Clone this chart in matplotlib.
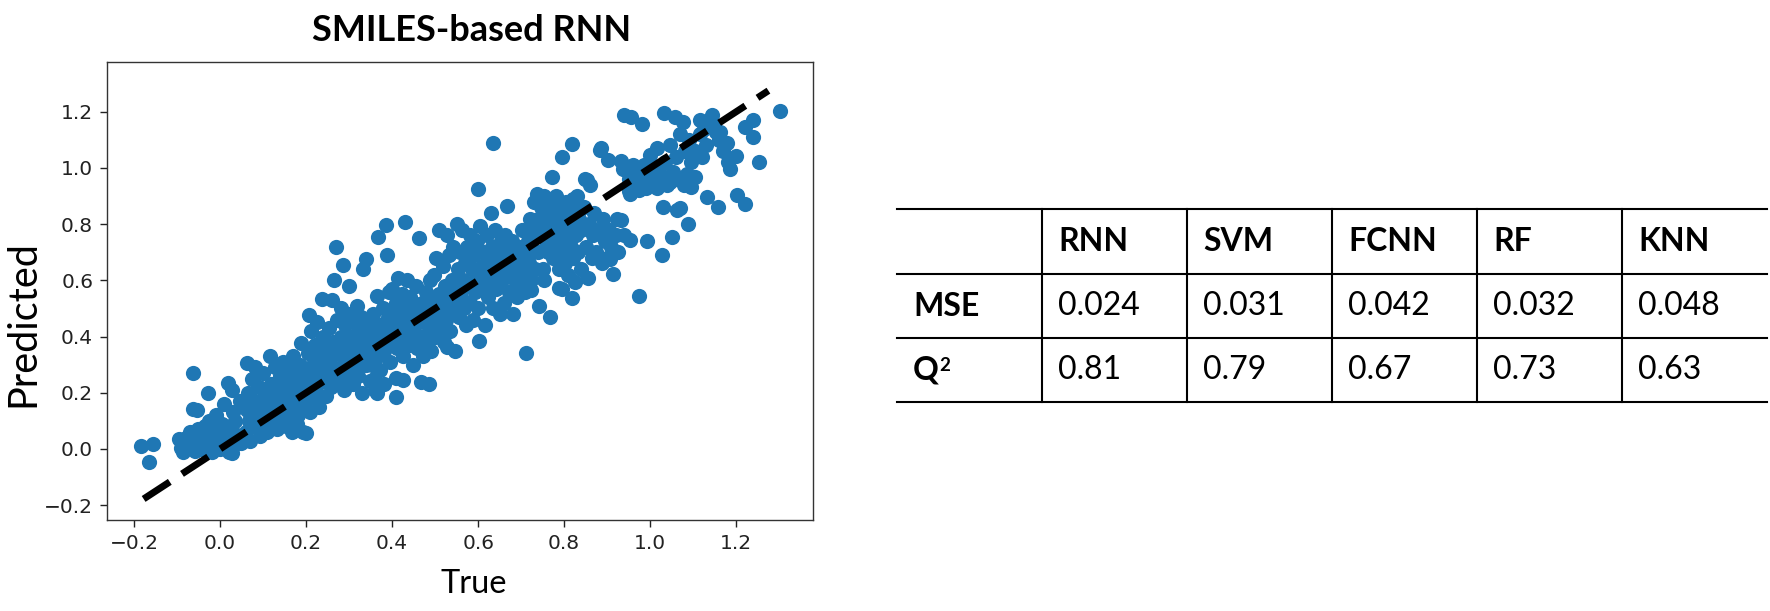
import matplotlib.pyplot as plt

plt.rcParams['font.family'] = ['Lato', 'DejaVu Sans']

title = "SMILES-based RNN"
x_label = "True"
y_label = "Predicted"

# (true, predicted) pairs, roughly left to right
points = [
    # x < -0.05
    (-0.183, 0.010), (-0.157, 0.017), (-0.166, -0.045), (-0.095, 0.035), (-0.090, 0.005),
    (-0.086, -0.012), (-0.080, 0.040), (-0.075, 0.022), (-0.063, 0.269), (-0.070, 0.060),
    (-0.064, 0.142), (-0.053, 0.138), (-0.058, -0.008), (-0.055, 0.030), (-0.052, 0.070),
    (-0.050, 0.010), (-0.068, 0.050), (-0.085, 0.020),
    # -0.05 .. 0.05
    (-0.045, 0.000), (-0.040, 0.040), (-0.035, 0.080), (-0.030, 0.020), (-0.028, 0.200),
    (-0.025, 0.100), (-0.020, -0.010), (-0.015, 0.060), (-0.010, 0.120), (-0.005, 0.030),
    (0.000, 0.000), (0.005, 0.090), (0.010, 0.160), (0.012, 0.040), (0.019, 0.233),
    (0.020, -0.010), (0.022, 0.070), (0.027, 0.210), (0.030, 0.130), (0.030, 0.010),
    (0.035, 0.100), (0.040, 0.050), (0.045, 0.170), (0.048, 0.020), (0.027, -0.015),
    (0.000, 0.060), (-0.012, 0.020),
    # 0.05 .. 0.15
    (0.063, 0.307), (0.060, 0.060), (0.062, 0.140), (0.065, 0.200), (0.068, 0.100),
    (0.070, 0.030), (0.075, 0.250), (0.080, 0.290), (0.082, 0.170), (0.085, 0.080),
    (0.088, 0.120), (0.090, 0.220), (0.093, 0.045), (0.095, 0.160), (0.100, 0.270),
    (0.102, 0.110), (0.105, 0.190), (0.110, 0.060), (0.112, 0.140), (0.116, 0.332),
    (0.118, 0.230), (0.120, 0.100), (0.125, 0.180), (0.128, 0.290), (0.130, 0.130),
    (0.133, 0.070), (0.135, 0.220), (0.138, 0.160), (0.140, 0.260), (0.143, 0.100),
    (0.146, 0.310), (0.148, 0.200), (0.150, 0.140),
    # 0.15 .. 0.25
    (0.152, 0.080), (0.155, 0.240), (0.158, 0.170), (0.160, 0.290), (0.162, 0.110),
    (0.165, 0.210), (0.168, 0.060), (0.170, 0.330), (0.172, 0.150), (0.175, 0.260),
    (0.178, 0.090), (0.180, 0.190), (0.182, 0.120), (0.185, 0.300), (0.188, 0.378),
    (0.190, 0.230), (0.192, 0.060), (0.195, 0.160), (0.198, 0.270), (0.200, 0.058),
    (0.202, 0.200), (0.205, 0.340), (0.206, 0.475), (0.208, 0.130), (0.210, 0.250),
    (0.212, 0.420), (0.215, 0.300), (0.218, 0.180), (0.220, 0.370), (0.222, 0.220),
    (0.225, 0.450), (0.228, 0.280), (0.230, 0.150), (0.232, 0.330), (0.236, 0.533),
    (0.238, 0.240), (0.240, 0.400), (0.242, 0.300), (0.245, 0.190), (0.248, 0.360),
    (0.250, 0.260),
    # 0.25 .. 0.35
    (0.252, 0.430), (0.255, 0.320), (0.258, 0.220), (0.260, 0.530), (0.262, 0.380),
    (0.265, 0.600), (0.268, 0.280), (0.270, 0.720), (0.272, 0.460), (0.275, 0.340),
    (0.278, 0.250), (0.280, 0.400), (0.282, 0.500), (0.285, 0.300), (0.286, 0.656),
    (0.288, 0.210), (0.290, 0.440), (0.292, 0.360), (0.295, 0.270), (0.298, 0.480),
    (0.300, 0.580), (0.302, 0.330), (0.305, 0.400), (0.308, 0.230), (0.310, 0.450),
    (0.312, 0.300), (0.315, 0.370), (0.318, 0.510), (0.320, 0.260), (0.322, 0.420),
    (0.325, 0.340), (0.328, 0.470), (0.330, 0.200), (0.333, 0.642), (0.335, 0.390),
    (0.338, 0.300), (0.340, 0.676), (0.342, 0.440), (0.345, 0.350), (0.348, 0.240),
    # 0.35 .. 0.45
    (0.350, 0.410), (0.352, 0.300), (0.355, 0.480), (0.358, 0.250), (0.360, 0.210),
    (0.362, 0.370), (0.365, 0.544), (0.367, 0.753), (0.368, 0.330), (0.370, 0.440),
    (0.372, 0.280), (0.375, 0.400), (0.378, 0.500), (0.380, 0.350), (0.382, 0.230),
    (0.385, 0.797), (0.387, 0.690), (0.388, 0.460), (0.390, 0.420), (0.392, 0.560),
    (0.395, 0.310), (0.398, 0.380), (0.400, 0.570), (0.402, 0.480), (0.405, 0.440),
    (0.408, 0.186), (0.408, 0.253), (0.410, 0.520), (0.412, 0.360), (0.414, 0.607),
    (0.418, 0.400), (0.420, 0.460), (0.422, 0.550), (0.425, 0.330), (0.426, 0.246),
    (0.428, 0.500), (0.430, 0.808), (0.432, 0.420), (0.435, 0.600), (0.438, 0.370),
    (0.440, 0.470), (0.442, 0.540), (0.445, 0.410), (0.448, 0.300), (0.365, 0.198),
    # 0.45 .. 0.55
    (0.450, 0.500), (0.452, 0.440), (0.455, 0.580), (0.458, 0.360), (0.460, 0.470),
    (0.462, 0.750), (0.465, 0.400), (0.468, 0.239), (0.470, 0.520), (0.472, 0.330),
    (0.475, 0.450), (0.478, 0.560), (0.480, 0.380), (0.482, 0.490), (0.485, 0.420),
    (0.486, 0.232), (0.488, 0.600), (0.490, 0.350), (0.492, 0.460), (0.495, 0.520),
    (0.498, 0.620), (0.500, 0.400), (0.502, 0.680), (0.505, 0.480), (0.508, 0.550),
    (0.510, 0.780), (0.512, 0.430), (0.515, 0.500), (0.518, 0.650), (0.520, 0.380),
    (0.522, 0.580), (0.525, 0.460), (0.527, 0.364), (0.527, 0.760), (0.530, 0.530),
    (0.532, 0.690), (0.535, 0.420), (0.538, 0.600), (0.540, 0.500), (0.542, 0.720),
    (0.545, 0.350), (0.548, 0.560), (0.550, 0.800),
    # 0.55 .. 0.65
    (0.552, 0.640), (0.555, 0.470), (0.558, 0.700), (0.560, 0.540), (0.562, 0.780),
    (0.565, 0.600), (0.568, 0.500), (0.570, 0.660), (0.572, 0.440), (0.575, 0.720),
    (0.578, 0.580), (0.580, 0.760), (0.582, 0.520), (0.585, 0.640), (0.588, 0.460),
    (0.590, 0.690), (0.592, 0.560), (0.595, 0.610), (0.598, 0.740), (0.599, 0.924),
    (0.600, 0.500), (0.602, 0.383), (0.605, 0.794), (0.608, 0.650), (0.610, 0.580),
    (0.612, 0.700), (0.615, 0.440), (0.618, 0.620), (0.620, 0.760), (0.622, 0.540),
    (0.625, 0.680), (0.628, 0.600), (0.629, 0.839), (0.632, 0.720), (0.635, 1.089),
    (0.635, 0.500), (0.638, 0.660), (0.640, 0.780), (0.642, 0.570), (0.645, 0.700),
    (0.648, 0.640), (0.650, 0.480),
    # 0.65 .. 0.75
    (0.652, 0.740), (0.655, 0.600), (0.658, 0.680), (0.660, 0.520), (0.662, 0.760),
    (0.665, 0.640), (0.668, 0.864), (0.670, 0.700), (0.672, 0.560), (0.675, 0.620),
    (0.678, 0.740), (0.680, 0.480), (0.682, 0.680), (0.685, 0.600), (0.688, 0.700),
    (0.690, 0.540), (0.692, 0.640), (0.695, 0.720), (0.698, 0.580), (0.700, 0.660),
    (0.702, 0.780), (0.705, 0.620), (0.708, 0.700), (0.710, 0.560), (0.712, 0.343),
    (0.715, 0.740), (0.718, 0.660), (0.720, 0.820), (0.722, 0.600), (0.724, 0.565),
    (0.725, 0.700), (0.728, 0.780), (0.730, 0.880), (0.732, 0.640), (0.735, 0.760),
    (0.736, 0.908), (0.738, 0.820), (0.740, 0.700), (0.742, 0.510), (0.745, 0.860),
    (0.748, 0.780), (0.750, 0.640),
    # 0.75 .. 0.85
    (0.752, 0.900), (0.754, 0.600), (0.755, 0.820), (0.758, 0.740), (0.760, 0.880),
    (0.762, 0.700), (0.765, 0.800), (0.768, 0.470), (0.770, 0.860), (0.771, 0.968),
    (0.772, 0.760), (0.775, 0.680), (0.778, 0.840), (0.780, 0.720), (0.782, 0.900),
    (0.785, 0.780), (0.788, 0.640), (0.789, 0.572), (0.790, 0.820), (0.792, 0.740),
    (0.795, 1.040), (0.795, 0.860), (0.798, 0.700), (0.800, 0.800), (0.802, 0.660),
    (0.805, 0.880), (0.808, 0.760), (0.810, 0.620), (0.812, 0.840), (0.815, 0.720),
    (0.818, 0.800), (0.819, 1.086), (0.819, 0.537), (0.820, 0.680), (0.822, 0.860),
    (0.825, 0.593), (0.828, 0.760), (0.830, 0.900), (0.832, 0.700), (0.835, 0.820),
    (0.838, 0.640), (0.840, 0.780), (0.845, 0.860), (0.849, 0.961), (0.850, 0.720),
    (0.855, 0.607), (0.821, 0.890), (0.853, 0.958), (0.795, 0.569),
    # 0.85 .. 1.0
    (0.858, 0.800), (0.860, 0.940), (0.865, 0.680), (0.868, 0.760), (0.870, 0.840),
    (0.875, 0.700), (0.880, 0.780), (0.885, 1.072), (0.888, 0.660), (0.890, 0.820),
    (0.895, 0.740), (0.900, 0.680), (0.902, 1.030), (0.905, 0.780), (0.910, 0.720),
    (0.914, 0.621), (0.907, 0.675), (0.920, 0.760), (0.925, 0.700), (0.932, 1.024),
    (0.932, 0.815), (0.938, 1.190), (0.940, 0.760), (0.945, 0.990), (0.950, 0.919),
    (0.950, 0.960), (0.956, 1.183), (0.953, 0.745), (0.960, 1.010), (0.965, 0.940),
    (0.970, 0.980), (0.974, 0.544), (0.975, 0.920), (0.980, 1.156), (0.980, 0.960),
    (0.985, 1.010), (0.990, 0.930), (0.992, 0.739), (0.995, 0.980), (0.884, 1.063),
    (0.923, 0.820), (0.937, 0.997), (0.953, 0.908),
    # 1.0 .. 1.3
    (0.998, 0.947), (1.000, 1.045), (1.005, 0.960), (1.010, 1.000), (1.015, 0.930),
    (1.016, 1.070), (1.022, 0.980), (1.027, 0.690), (1.030, 0.950), (1.033, 1.197),
    (1.035, 1.020), (1.030, 0.862), (1.040, 0.940), (1.045, 1.080), (1.047, 0.950),
    (1.051, 0.753), (1.053, 0.985), (1.057, 1.183), (1.060, 1.040), (1.063, 0.850),
    (1.065, 0.960), (1.069, 0.857), (1.070, 1.120), (1.077, 1.163), (1.078, 0.940),
    (1.080, 1.060), (1.085, 0.980), (1.088, 0.800), (1.090, 1.100), (1.094, 0.933),
    (1.095, 1.020), (1.105, 0.968), (1.105, 1.060), (1.116, 1.170), (1.115, 1.120),
    (1.120, 1.040), (1.125, 1.140), (1.130, 1.080), (1.133, 0.897), (1.144, 1.187),
    (1.145, 1.160), (1.152, 1.128), (1.158, 0.862), (1.160, 1.100), (1.163, 1.127),
    (1.170, 1.060), (1.179, 1.090), (1.180, 1.020), (1.186, 0.997), (1.200, 1.044),
    (1.202, 0.905), (1.220, 0.870), (1.220, 1.145), (1.240, 1.170), (1.240, 1.110),
    (1.252, 1.020), (1.301, 1.204),
]
true_vals = [p[0] for p in points]
pred_vals = [p[1] for p in points]

# ends of the y = x reference line
line_ends = [-0.178, 1.275]
x_ticks = [-0.2, 0.0, 0.2, 0.4, 0.6, 0.8, 1.0, 1.2]
y_ticks = [-0.2, 0.0, 0.2, 0.4, 0.6, 0.8, 1.0, 1.2]

models = ["RNN", "SVM", "FCNN", "RF", "KNN"]
metrics = ["MSE", "Q"]
mse_vals = ["0.024", "0.031", "0.042", "0.032", "0.048"]
q2_vals = ["0.81", "0.79", "0.67", "0.73", "0.63"]

fig = plt.figure(figsize=(17.7, 6.11), dpi=100)

ax = fig.add_axes([0.0605, 0.1489, 0.3989, 0.7496])
ax.scatter(true_vals, pred_vals, s=120, color='#1f77b4', linewidths=0, zorder=2)
ax.plot(line_ends, line_ends, color='black', lw=5, linestyle=(0, (4.5, 2.1)), zorder=3)
ax.set_xlim(-0.263, 1.379)
ax.set_ylim(-0.253, 1.377)
ax.set_xticks(x_ticks)
ax.set_yticks(y_ticks)
ax.tick_params(labelsize=14.5, length=5, width=1, pad=5, colors='#222222')
for lbl in ax.get_xticklabels() + ax.get_yticklabels():
    lbl.set_fontfamily('DejaVu Sans')
for sp in ax.spines.values():
    sp.set_linewidth(1.0)
    sp.set_color('#333333')
ax.set_xlabel(x_label, fontsize=23.5)
ax.xaxis.set_label_coords(0.52, -0.107)
ax.set_ylabel(y_label, fontsize=28.5)
ax.yaxis.set_label_coords(-0.093, 0.43)

fig.text(472 / 1770, 1 - 41 / 611, title, ha='center', va='baseline',
         fontsize=26, fontweight='bold')

# table drawn in pixel units of the figure
tax = fig.add_axes([0, 0, 1, 1], zorder=-1)
tax.set_xlim(0, 1770)
tax.set_ylim(611, 0)
tax.axis('off')
row_edges = [209, 274, 338, 402]
col_edges = [897, 1042, 1187, 1332, 1477, 1622, 1767]
for y in row_edges:
    tax.plot([col_edges[0], col_edges[-1]], [y, y], color='black', lw=1.5)
for x in col_edges[1:-1]:
    tax.plot([x, x], [row_edges[0], row_edges[-1]], color='black', lw=1.5)

def row_mid(i):
    return (row_edges[i] + row_edges[i + 1]) / 2

for j, name in enumerate(models):
    tax.text(col_edges[j + 1] + 16, row_mid(0), name, va='center', ha='left',
             fontsize=23, fontweight='bold')
for i, name in enumerate(metrics):
    tax.text(col_edges[0] + 16, row_mid(i + 1), name, va='center', ha='left',
             fontsize=23, fontweight='bold')
# superscript of Q^2
tax.text(col_edges[0] + 42, row_edges[2] + 19, "2", va='top', ha='left',
         fontsize=13.5, fontweight='bold')
for j, v in enumerate(mse_vals):
    tax.text(col_edges[j + 1] + 16, row_mid(1), v, va='center', ha='left', fontsize=23)
for j, v in enumerate(q2_vals):
    tax.text(col_edges[j + 1] + 16, row_mid(2), v, va='center', ha='left', fontsize=23)

fig.savefig('out.png', dpi=100)
